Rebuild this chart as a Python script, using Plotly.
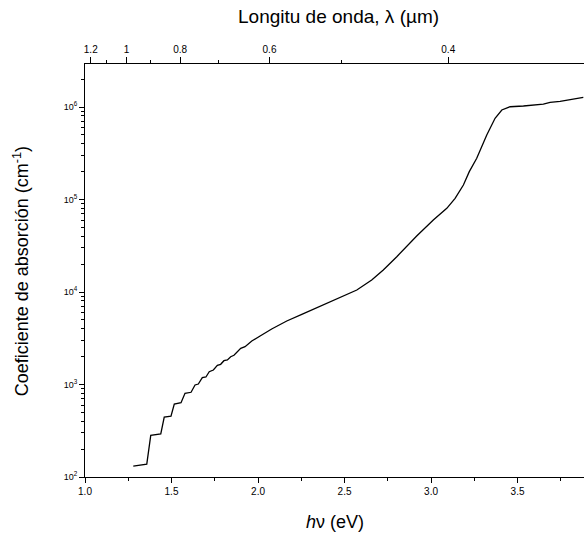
import plotly.graph_objects as go

# Photon energy (eV) and absorption coefficient (cm^-1)
energy_ev = [1.279, 1.357, 1.380, 1.438, 1.458, 1.497, 1.516, 1.555, 1.578, 1.613,
             1.636, 1.655, 1.678, 1.699, 1.718, 1.742, 1.765, 1.784, 1.803, 1.823,
             1.842, 1.861, 1.900, 1.925, 1.964, 1.992, 2.012, 2.079, 2.166, 2.253,
             2.368, 2.474, 2.571, 2.657, 2.724, 2.802, 2.917, 3.013, 3.091, 3.139,
             3.187, 3.221, 3.264, 3.322, 3.370, 3.409, 3.457, 3.534, 3.649, 3.688,
             3.746, 3.880]
alpha_cm = [131, 138, 282, 292, 445, 456, 615, 635, 804, 824,
            989, 1012, 1185, 1205, 1375, 1435, 1614, 1653, 1808, 1840,
            1999, 2070, 2462, 2564, 2953, 3157, 3342, 3981, 4856, 5736,
            7185, 8674, 10510, 13490, 17300, 24090, 40300, 60000, 80300, 103000,
            143500, 200000, 278800, 497700, 755000, 929000, 1007000, 1026000, 1077000, 1124000,
            1153000, 1273000]

# Axis tick definitions
x_ticks = [1.0, 1.5, 2.0, 2.5, 3.0, 3.5]
x_ticklabels = ["1.0", "1.5", "2.0", "2.5", "3.0", "3.5"]
y_ticks = [1e2, 1e3, 1e4, 1e5, 1e6]
y_ticklabels = ["10<sup>2</sup>", "10<sup>3</sup>", "10<sup>4</sup>", "10<sup>5</sup>", "10<sup>6</sup>"]
wl_major = [1.2, 1.0, 0.8, 0.6, 0.4]
wl_major_labels = ["1.2", "1", "0.8", "0.6", "0.4"]
wl_minor = [1.1, 0.9, 0.7, 0.5]
HC = 1.2398  # eV*um

x_range = [1.0, 3.884]
y_range = [2.0, 6.465]

font_family = "Liberation Sans, Arial, sans-serif"

fig = go.Figure()
fig.add_trace(go.Scatter(x=energy_ev, y=alpha_cm, mode="lines",
                         line=dict(color="black", width=1.3),
                         showlegend=False, hoverinfo="skip"))
# invisible trace to anchor the top (wavelength) axis
fig.add_trace(go.Scatter(x=energy_ev, y=alpha_cm, mode="lines", xaxis="x2",
                         line=dict(color="rgba(0,0,0,0)", width=0),
                         showlegend=False, hoverinfo="skip"))

axis_font = dict(family=font_family, size=10, color="black")

fig.update_layout(
    width=584, height=537,
    margin=dict(l=85, r=0, t=64, b=60),
    paper_bgcolor="white", plot_bgcolor="white",
    font=dict(family=font_family, color="black"),
    xaxis=dict(
        range=x_range, showgrid=False, zeroline=False,
        showline=True, linecolor="black", linewidth=1,
        tickvals=x_ticks, ticktext=x_ticklabels,
        ticks="outside", ticklen=5, tickwidth=1, tickcolor="black",
        tickfont=axis_font,
        minor=dict(ticks="outside", ticklen=3, tickwidth=1, tickcolor="black", dtick=0.25, showgrid=False),
    ),
    xaxis2=dict(
        range=x_range, overlaying="x", side="top", anchor="y",
        showgrid=False, zeroline=False,
        showline=True, linecolor="black", linewidth=1,
        tickvals=[HC / w for w in wl_major], ticktext=wl_major_labels,
        ticks="outside", ticklen=6, tickwidth=1, tickcolor="black",
        tickfont=axis_font,
        minor=dict(ticks="outside", ticklen=3, tickwidth=1, tickcolor="black",
                   tickvals=[HC / w for w in wl_minor], showgrid=False),
    ),
    yaxis=dict(
        type="log", range=y_range, showgrid=False, zeroline=False,
        showline=True, linecolor="black", linewidth=1,
        tickvals=y_ticks, ticktext=y_ticklabels,
        ticks="outside", ticklen=5, tickwidth=1, tickcolor="black",
        tickfont=dict(family=font_family, size=9, color="black"),
        minor=dict(ticks="outside", ticklen=3, tickwidth=1, tickcolor="black", dtick="D1", showgrid=False),
    ),
    annotations=[
        dict(text="Longitu de onda, λ (µm)", xref="paper", yref="paper",
             x=0.508, y=1.114, xanchor="center", yanchor="middle", showarrow=False,
             font=dict(family=font_family, size=19, color="black")),
        dict(text="<i>h</i>ν (eV)", xref="paper", yref="paper",
             x=0.502, y=-0.109, xanchor="center", yanchor="middle", showarrow=False,
             font=dict(family=font_family, size=18, color="black")),
        dict(text="Coeficiente de absorción (cm<sup>-1</sup>)", xref="paper", yref="paper",
             x=-0.127, y=0.497, xanchor="center", yanchor="middle", showarrow=False,
             textangle=-90, font=dict(family=font_family, size=18, color="black")),
    ],
)

fig.write_html("out.html")
